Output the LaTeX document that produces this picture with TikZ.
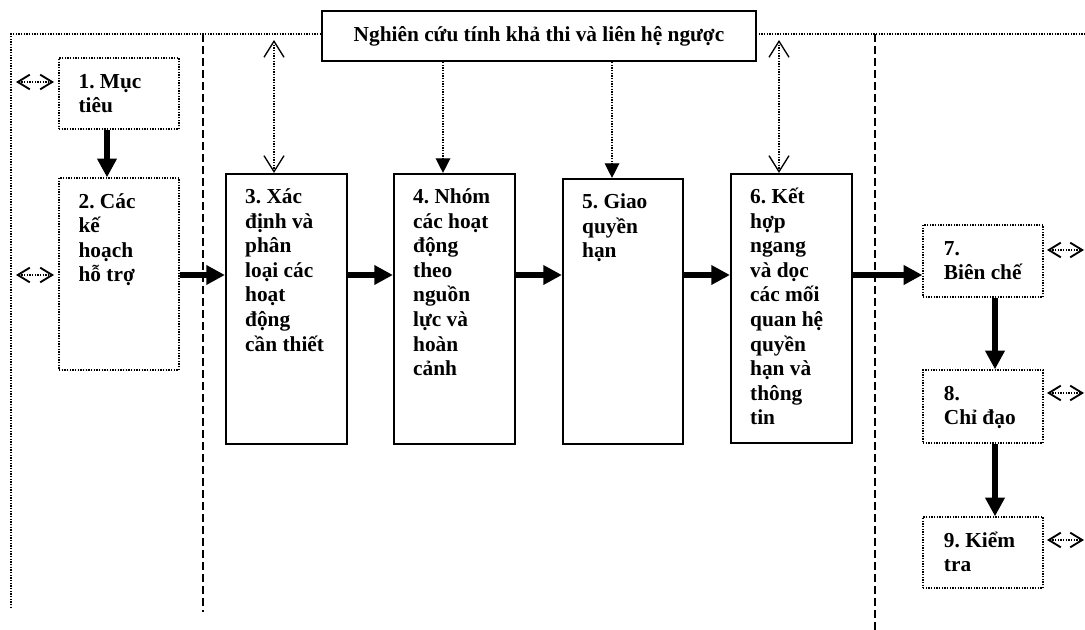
\documentclass[tikz,border=0pt]{standalone}
\usepackage{fontspec}
\setmainfont{Liberation Serif}
\usetikzlibrary{arrows.meta}
\newcommand\fstrut{\rule{0pt}{16pt}}
\newcommand\diagfont{\fontsize{16pt}{18.4pt}\selectfont\bfseries\frenchspacing\lineskiplimit=-30pt\relax}
\begin{document}
\begin{tikzpicture}[x=0.75pt,y=-0.75pt,
  bodyfont/.style={font=\diagfont},
  txt/.style={bodyfont, anchor=north west, inner sep=0pt, align=left},
  solidbox/.style={draw, line width=1.6pt, inner sep=0pt},
  dotbox/.style={draw, line width=1pt, dash pattern=on 1pt off 1pt, inner sep=0pt},
  bigarrow/.style={line width=4.6pt, -{Triangle[length=14pt,width=14pt]}},
  dotarrow/.style={line width=1pt, dash pattern=on 1pt off 1pt, -{Triangle[length=11pt,width=11pt]}},
  dotdouble/.style={line width=1pt, dash pattern=on 1pt off 1pt,
    {Straight Barb[length=12pt,width=15pt,line width=1pt]}-{Straight Barb[length=12pt,width=15pt,line width=1pt]}},
  sidearrow/.style={line width=1pt, dash pattern=on 1pt off 1pt,
    {Straight Barb[length=9pt,width=11pt,line width=1.4pt]}-{Straight Barb[length=9pt,width=11pt,line width=1.4pt]}},
  framedot/.style={line width=1pt, dash pattern=on 1pt off 1pt},
  framedash/.style={line width=1pt, dash pattern=on 6pt off 3pt}
]
\useasboundingbox (0,0) rectangle (1085,630);

% frame lines
\draw[framedot] (11,608) -- (11,34) -- (322,34);
\draw[framedot] (756,34) -- (1085,34);
\draw[framedash] (203,34) -- (203,612);
\draw[framedash] (875,34) -- (875,630);

% top box
\node[solidbox, bodyfont, minimum width=325.5pt, minimum height=37.5pt] (top) at (539,36) {Nghiên cứu tính khả thi và liên hệ ngược};

% boxes
\node[dotbox, minimum width=90pt, minimum height=53.25pt] (b1) at (119,93.5) {};
\node[dotbox, minimum width=90pt, minimum height=144pt] (b2) at (119,274) {};
\node[solidbox, minimum width=90.75pt, minimum height=202.5pt] (b3) at (286.5,309) {};
\node[solidbox, minimum width=90.75pt, minimum height=202.5pt] (b4) at (454.5,309) {};
\node[solidbox, minimum width=90pt, minimum height=198.75pt] (b5) at (623,311.5) {};
\node[solidbox, minimum width=90.75pt, minimum height=201.75pt] (b6) at (791.5,308.5) {};
\node[dotbox, minimum width=90pt, minimum height=54pt] (b7) at (983,261) {};
\node[dotbox, minimum width=90pt, minimum height=54.75pt] (b8) at (983,406.5) {};
\node[dotbox, minimum width=90pt, minimum height=53.25pt] (b9) at (983,552.5) {};

% texts
\node[txt] (t1) at ([xshift=15pt,yshift=-7pt]b1.north west) {\fstrut 1. Mục\\tiêu};
\node[txt] (t2) at ([xshift=15pt,yshift=-7pt]b2.north west) {\fstrut 2. Các\\kế\\hoạch\\hỗ trợ};
\node[txt] (t3) at ([xshift=15pt,yshift=-7pt]b3.north west) {\fstrut 3. Xác\\định và\\phân\\loại các\\hoạt\\động\\cần thiết};
\node[txt] (t4) at ([xshift=15pt,yshift=-7pt]b4.north west) {\fstrut 4. Nhóm\\các hoạt\\động\\theo\\nguồn\\lực và\\hoàn\\cảnh};
\node[txt] (t5) at ([xshift=15pt,yshift=-7pt]b5.north west) {\fstrut 5. Giao\\quyền\\hạn};
\node[txt] (t6) at ([xshift=15pt,yshift=-7pt]b6.north west) {\fstrut 6. Kết\\hợp\\ngang\\và dọc\\các mối\\quan hệ\\quyền\\hạn và\\thông\\tin};
\node[txt] (t7) at ([xshift=16pt,yshift=-7pt]b7.north west) {\fstrut 7.\\Biên chế};
\node[txt] (t8) at ([xshift=16pt,yshift=-7pt]b8.north west) {\fstrut 8.\\Chỉ đạo};
\node[txt] (t9) at ([xshift=16pt,yshift=-7pt]b9.north west) {\fstrut 9. Kiểm\\tra};

% helper coordinates
\coordinate (h) at (0,275);
\coordinate (v1) at (107,0);
\coordinate (v7) at (995,0);
\coordinate (c3) at (274,40);
\coordinate (c4) at (443,0);
\coordinate (c5) at (612,0);
\coordinate (c6) at (779,40);

% thick arrows
\draw[bigarrow] (v1 |- b1.south) -- (v1 |- b2.north);
\draw[bigarrow] (b2.east |- h) -- (b3.west |- h);
\draw[bigarrow] (b3.east |- h) -- (b4.west |- h);
\draw[bigarrow] (b4.east |- h) -- (b5.west |- h);
\draw[bigarrow] (b5.east |- h) -- (b6.west |- h);
\draw[bigarrow] (b6.east |- h) -- (b7.west |- h);
\draw[bigarrow] (v7 |- b7.south) -- (v7 |- b8.north);
\draw[bigarrow] (v7 |- b8.south) -- (v7 |- b9.north);

% dotted connectors from top
\draw[dotdouble] (c3) -- (c3 |- b3.north);
\draw[dotarrow] (c4 |- top.south) -- (c4 |- b4.north);
\draw[dotarrow] (c5 |- top.south) -- (c5 |- b5.north);
\draw[dotdouble] (c6) -- (c6 |- b6.north);

% side double arrows
\coordinate (l1a) at (16,82);  \coordinate (l1b) at (54,82);
\coordinate (l2a) at (16,275); \coordinate (l2b) at (54,275);
\coordinate (r7a) at (1047,250); \coordinate (r7b) at (1084,250);
\coordinate (r8a) at (1047,393); \coordinate (r8b) at (1084,393);
\coordinate (r9a) at (1047,540); \coordinate (r9b) at (1084,540);
\draw[sidearrow] (l1a) -- (l1b);
\draw[sidearrow] (l2a) -- (l2b);
\draw[sidearrow] (r7a) -- (r7b);
\draw[sidearrow] (r8a) -- (r8b);
\draw[sidearrow] (r9a) -- (r9b);
\end{tikzpicture}
\end{document}
